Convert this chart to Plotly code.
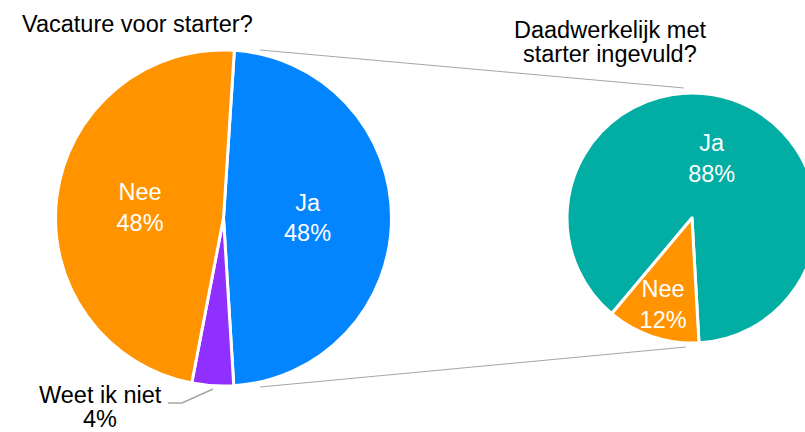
import plotly.graph_objects as go

# page is 805 wide, but the right pie runs past the edge, so the figure is wider
W, H = 830, 432

# data
vac_labels = ["Ja", "Weet ik niet", "Nee"]
vac_values = [48, 4, 48]
vac_colors = ["#0385FF", "#9030FF", "#FF9400"]

inv_labels = ["Ja", "Nee"]
inv_values = [88, 12]
inv_colors = ["#02ADA4", "#FF9400"]

titles = ["Vacature voor starter?", "Daadwerkelijk met", "starter ingevuld?"]

FONT = "Liberation Sans, Arial, sans-serif"
SIZE = 23.5


def px_x(x):
    return x / W


def px_y(y):
    return 1 - y / H


def label(x, y, text):
    fig.add_annotation(x=px_x(x), y=px_y(y), xref="paper", yref="paper",
                       xanchor="center", yanchor="middle", text=text,
                       showarrow=False, font=dict(size=SIZE, color="black", family=FONT))


fig = go.Figure()

fig.add_trace(go.Pie(
    labels=vac_labels,
    values=vac_values,
    sort=False,
    direction="clockwise",
    rotation=3.7,
    marker=dict(colors=vac_colors, line=dict(color="white", width=3)),
    texttemplate="%{label}<br>%{percent:.0%}",
    textposition=["inside", "none", "inside"],
    insidetextorientation="horizontal",
    textfont=dict(color="white", size=SIZE, family=FONT),
    domain=dict(x=[px_x(55), px_x(392)], y=[px_y(386), px_y(50)]),
    showlegend=False,
    hoverinfo="label+percent",
))

fig.add_trace(go.Pie(
    labels=inv_labels,
    values=inv_values,
    sort=False,
    direction="clockwise",
    rotation=220,
    marker=dict(colors=inv_colors, line=dict(color="white", width=3)),
    texttemplate="%{label}<br>%{percent:.0%}",
    textposition="inside",
    insidetextorientation="horizontal",
    textfont=dict(color="white", size=SIZE, family=FONT),
    domain=dict(x=[px_x(567), px_x(817)], y=[px_y(343), px_y(93)]),
    showlegend=False,
    hoverinfo="label+percent",
))

# connector lines between the two pies
line_style = dict(color="#A6A6A6", width=1)
fig.add_shape(type="line", xref="paper", yref="paper",
              x0=px_x(260), y0=px_y(50), x1=px_x(684), y1=px_y(88), line=line_style)
fig.add_shape(type="line", xref="paper", yref="paper",
              x0=px_x(260), y0=px_y(387), x1=px_x(686), y1=px_y(347), line=line_style)

# leader line for the small slice
fig.add_shape(type="path", xref="paper", yref="paper",
              path=f"M {px_x(168)},{px_y(403)} L {px_x(182)},{px_y(403)} L {px_x(213)},{px_y(389)}",
              line=dict(color="#A6A6A6", width=1.5))

label(100, 395, vac_labels[1])
label(100, 419, f"{vac_values[1]}%")

label(137, 24, titles[0])
label(610, 30, titles[1])
label(610, 54, titles[2])

fig.update_layout(
    width=W,
    height=H,
    margin=dict(l=0, r=0, t=0, b=0),
    paper_bgcolor="white",
    plot_bgcolor="white",
    uniformtext=dict(minsize=SIZE, mode="show"),
)

fig.write_html("out.html", config={"displayModeBar": False},
               post_script="document.body.style.margin='0';document.body.style.overflow='hidden';")
